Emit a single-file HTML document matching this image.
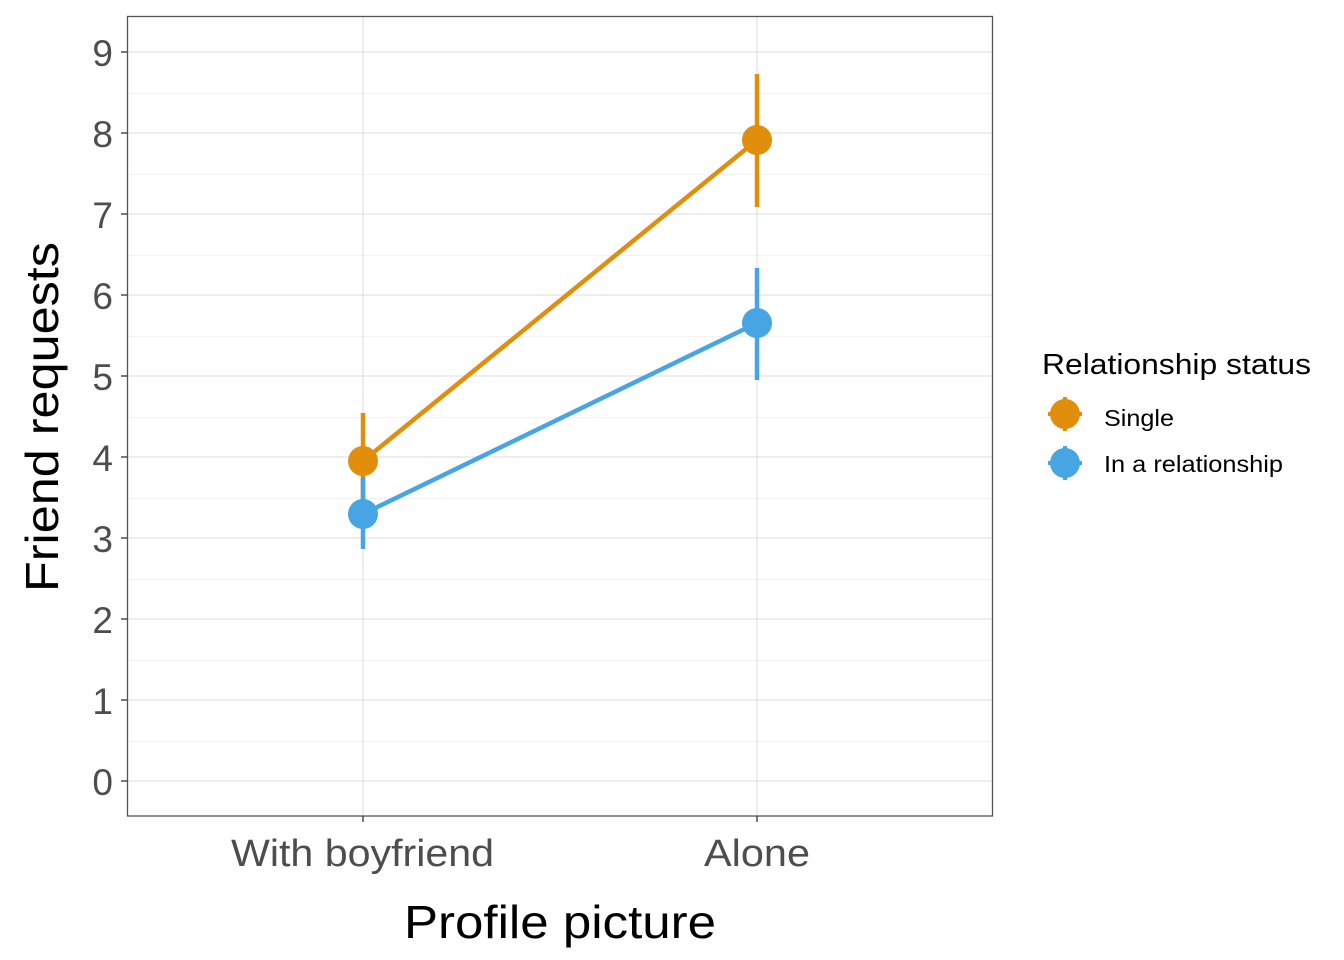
<!DOCTYPE html>
<html><head><style>body{margin:0;background:#fff}svg{display:block}text{font-family:"Liberation Sans",Arial,sans-serif}</style></head>
<body>
<svg width="1344" height="960" viewBox="0 0 1344 960" xmlns="http://www.w3.org/2000/svg">
<rect width="1344" height="960" fill="#fff"/>
<g stroke="#f2f2f2" stroke-width="1">
<line x1="127" x2="993" y1="741.5" y2="741.5"/><line x1="127" x2="993" y1="660.5" y2="660.5"/>
<line x1="127" x2="993" y1="579.5" y2="579.5"/><line x1="127" x2="993" y1="498.5" y2="498.5"/>
<line x1="127" x2="993" y1="417.5" y2="417.5"/><line x1="127" x2="993" y1="336.5" y2="336.5"/>
<line x1="127" x2="993" y1="255.5" y2="255.5"/><line x1="127" x2="993" y1="174.5" y2="174.5"/>
<line x1="127" x2="993" y1="93.5" y2="93.5"/>
</g>
<g stroke="#e3e3e3" stroke-width="1.3">
<line x1="127" x2="993" y1="781" y2="781"/><line x1="127" x2="993" y1="700" y2="700"/>
<line x1="127" x2="993" y1="619" y2="619"/><line x1="127" x2="993" y1="538" y2="538"/>
<line x1="127" x2="993" y1="457" y2="457"/><line x1="127" x2="993" y1="376" y2="376"/>
<line x1="127" x2="993" y1="295" y2="295"/><line x1="127" x2="993" y1="214" y2="214"/>
<line x1="127" x2="993" y1="133" y2="133"/><line x1="127" x2="993" y1="52" y2="52"/>
<line x1="363" x2="363" y1="16" y2="816"/><line x1="757" x2="757" y1="16" y2="816"/>
</g>
<rect x="127.5" y="16.5" width="865" height="799.5" fill="none" stroke="#555" stroke-width="1.3"/>
<g stroke="#333" stroke-width="1.3">
<line x1="121" x2="127" y1="781" y2="781"/><line x1="121" x2="127" y1="700" y2="700"/>
<line x1="121" x2="127" y1="619" y2="619"/><line x1="121" x2="127" y1="538" y2="538"/>
<line x1="121" x2="127" y1="457" y2="457"/><line x1="121" x2="127" y1="376" y2="376"/>
<line x1="121" x2="127" y1="295" y2="295"/><line x1="121" x2="127" y1="214" y2="214"/>
<line x1="121" x2="127" y1="133" y2="133"/><line x1="121" x2="127" y1="52" y2="52"/>
<line x1="363" x2="363" y1="816" y2="822"/><line x1="757" x2="757" y1="816" y2="822"/>
</g>
<g font-size="37" fill="#4d4d4d" text-anchor="end">
<text x="113" y="795">0</text><text x="113" y="714">1</text><text x="113" y="633">2</text>
<text x="113" y="552">3</text><text x="113" y="471">4</text><text x="113" y="390">5</text>
<text x="113" y="309">6</text><text x="113" y="228">7</text><text x="113" y="147">8</text>
<text x="113" y="66">9</text>
</g>
<g font-size="38" fill="#4d4d4d">
<text x="231" y="866" textLength="263" lengthAdjust="spacingAndGlyphs">With boyfriend</text>
<text x="704" y="866" textLength="106" lengthAdjust="spacingAndGlyphs">Alone</text>
</g>
<text x="404" y="938" font-size="46" fill="#000" textLength="312" lengthAdjust="spacingAndGlyphs">Profile picture</text>
<text transform="translate(58,592) rotate(-90)" font-size="46" fill="#000" textLength="350" lengthAdjust="spacingAndGlyphs">Friend requests</text>
<g stroke="#E08E0B" stroke-width="4.5">
<line x1="363" x2="363" y1="413" y2="510"/><line x1="757" x2="757" y1="74" y2="207"/>
<line x1="363" y1="461" x2="757" y2="140"/>
</g>
<circle cx="363" cy="461" r="15" fill="#E08E0B"/><circle cx="757" cy="140" r="15" fill="#E08E0B"/>
<g stroke="#48A5E3" stroke-width="4.5">
<line x1="363" x2="363" y1="477" y2="549"/><line x1="757" x2="757" y1="268" y2="380"/>
<line x1="363" y1="514" x2="757" y2="323"/>
</g>
<circle cx="363" cy="514" r="15" fill="#48A5E3"/><circle cx="757" cy="323" r="15" fill="#48A5E3"/>
<text x="1042" y="374" font-size="29" fill="#000" textLength="269" lengthAdjust="spacingAndGlyphs">Relationship status</text>
<g stroke="#E08E0B" stroke-width="4"><line x1="1065" x2="1065" y1="397" y2="431"/><line x1="1048" x2="1082" y1="414" y2="414"/></g>
<circle cx="1065" cy="414" r="15" fill="#E08E0B"/>
<g stroke="#48A5E3" stroke-width="4"><line x1="1065" x2="1065" y1="446" y2="480"/><line x1="1048" x2="1082" y1="463" y2="463"/></g>
<circle cx="1065" cy="463" r="15" fill="#48A5E3"/>
<text x="1104" y="426" font-size="23" fill="#000" textLength="70" lengthAdjust="spacingAndGlyphs">Single</text>
<text x="1104" y="472" font-size="23" fill="#000" textLength="179" lengthAdjust="spacingAndGlyphs">In a relationship</text>
</svg>
</body></html>
